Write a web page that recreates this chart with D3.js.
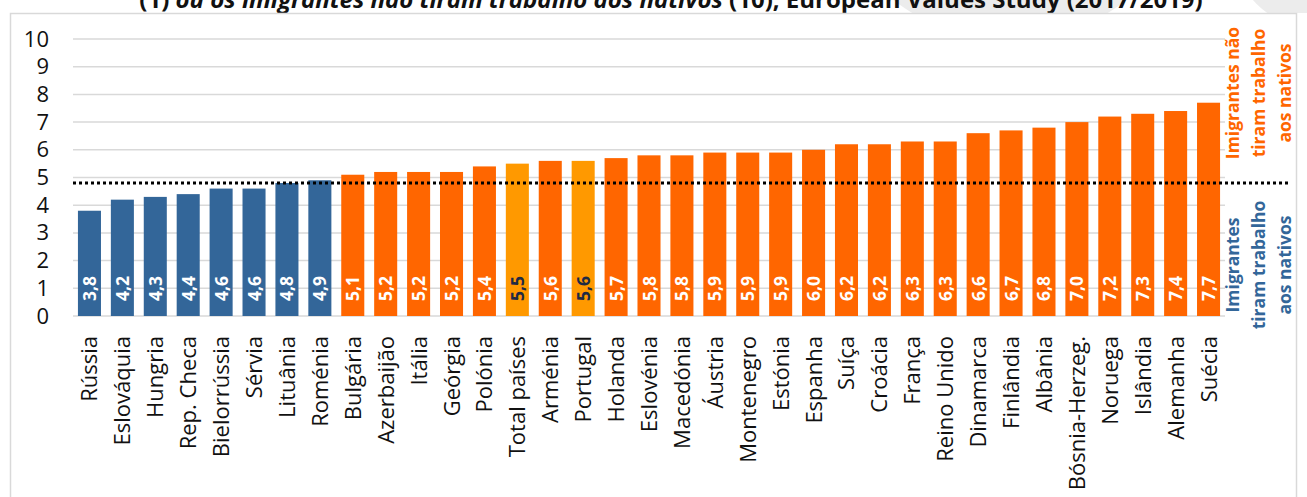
<!DOCTYPE html>
<html><head><meta charset="utf-8">
<script src="https://cdn.jsdelivr.net/npm/d3@7"></script>
<style>body{margin:0;background:#fff;}svg{display:block;font-family:"Open Sans",sans-serif;}</style>
</head><body>
<svg id="chart" width="1307" height="497"></svg>
<script>
const categories = ["Rússia","Eslováquia","Hungria","Rep. Checa","Bielorrússia","Sérvia","Lituânia","Roménia","Bulgária","Azerbaijão","Itália","Geórgia","Polónia","Total países","Arménia","Portugal","Holanda","Eslovénia","Macedónia","Áustria","Montenegro","Estónia","Espanha","Suíça","Croácia","França","Reino Unido","Dinamarca","Finlândia","Albânia","Bósnia-Herzeg.","Noruega","Islândia","Alemanha","Suécia"];
const values = [3.8,4.2,4.3,4.4,4.6,4.6,4.8,4.9,5.1,5.2,5.2,5.2,5.4,5.5,5.6,5.6,5.7,5.8,5.8,5.9,5.9,5.9,6.0,6.2,6.2,6.3,6.3,6.6,6.7,6.8,7.0,7.2,7.3,7.4,7.7];
const highlighted = ["Total países","Portugal"];
const meanLine = 4.8;
const colourThreshold = 5;
const yTicks = [0,1,2,3,4,5,6,7,8,9,10];
const titleParts = [["(1) ", "normal"], ["ou os imigrantes não tiram trabalho aos nativos", "italic"], [" (10); European Values Study (2017/2019)", "normal"]];
const labelHigh = ["Imigrantes não","tiram trabalho","aos nativos"];
const labelLow = ["Imigrantes","tiram trabalho","aos nativos"];

const BLUE = "#336699", ORANGE = "#FF6600", LIGHT = "#FF9900";
const svg = d3.select("#chart");

// watermark shapes in header
const defs = svg.append("defs");
defs.append("clipPath").attr("id","hdr").append("rect").attr("x",0).attr("y",0).attr("width",1307).attr("height",13);
const hdr = svg.append("g").attr("clip-path","url(#hdr)");
hdr.append("circle").attr("cx",1010).attr("cy",-150).attr("r",190).attr("fill","#ececec");
hdr.append("circle").attr("cx",1320).attr("cy",-60).attr("r",90).attr("fill","#ececec");

// title
const t = svg.append("text").attr("x",671).attr("y",7.5).attr("text-anchor","middle")
  .attr("font-size",24).attr("font-weight","bold").attr("fill","#111");
titleParts.forEach(p => t.append("tspan").attr("font-style",p[1]).text(p[0]));

// border
svg.append("rect").attr("x",10.5).attr("y",13.5).attr("width",1286).attr("height",500)
  .attr("fill","none").attr("stroke","#d9d9d9").attr("stroke-width",1.5);

const x = d3.scaleBand().domain(categories).range([73,1225]).paddingInner(0.3).paddingOuter(0.15);
const y = d3.scaleLinear().domain([0,10]).range([316,39]);

// gridlines
svg.append("g").selectAll("line").data(yTicks).join("line")
  .attr("x1",73).attr("x2",1225).attr("y1",d=>y(d)).attr("y2",d=>y(d))
  .attr("stroke","#d9d9d9").attr("stroke-width",1.5);

// y axis labels
const yAxis = d3.axisLeft(y).tickValues(yTicks).tickSize(0).tickPadding(0).tickFormat(d3.format("d"));
const yg = svg.append("g").attr("transform","translate(49,0)").call(yAxis);
yg.select(".domain").remove();
yg.selectAll("text").attr("font-size",22).attr("fill","#111").attr("font-family","Open Sans");

// bars
const data = categories.map((c,i)=>({c, v:values[i]}));
const colorOf = d => highlighted.includes(d.c) ? LIGHT : (d.v < colourThreshold ? BLUE : ORANGE);
svg.append("g").selectAll("rect").data(data).join("rect")
  .attr("x",d=>x(d.c)).attr("width",x.bandwidth())
  .attr("y",d=>y(d.v)).attr("height",d=>y(0)-y(d.v))
  .attr("fill",colorOf);

// value labels
svg.append("g").selectAll("text").data(data).join("text")
  .attr("transform",d=>`translate(${x(d.c)+x.bandwidth()/2+6.5},301) rotate(-90)`)
  .attr("font-size",17.5).attr("font-weight","bold")
  .attr("fill",d=>highlighted.includes(d.c) ? "#1f2a44" : "#fff")
  .text(d=>d3.format(".1f")(d.v).replace(".",","));

// category labels
const xAxis = d3.axisBottom(x).tickSize(0).tickPadding(0);
const xg = svg.append("g").call(xAxis);
xg.select(".domain").remove();
xg.selectAll("text").attr("font-size",22).attr("fill","#111").attr("font-family","Open Sans");
xg.selectAll(".tick").each(function(d){
  const cx = x(d)+x.bandwidth()/2;
  d3.select(this).attr("transform",null);
  d3.select(this).select("text")
    .attr("x",null).attr("y",null).attr("dy",null)
    .attr("text-anchor","end")
    .attr("transform",`translate(${cx+8},336) rotate(-90)`);
});

// mean dotted line
svg.append("line").attr("x1",73).attr("x2",1290).attr("y1",y(meanLine)).attr("y2",y(meanLine))
  .attr("stroke","#000").attr("stroke-width",3).attr("stroke-dasharray","3,3");

// side labels
const sideLabel = (lines, color, cy) => {
  lines.forEach((l,i)=>{
    svg.append("text").attr("transform",`translate(${1239+i*26},${cy}) rotate(-90)`)
      .attr("text-anchor","middle").attr("font-size",17.5).attr("font-weight","bold")
      .attr("fill",color).text(l);
  });
};
sideLabel(labelHigh, ORANGE, 93);
sideLabel(labelLow, BLUE, 265);
</script>
</body></html>
